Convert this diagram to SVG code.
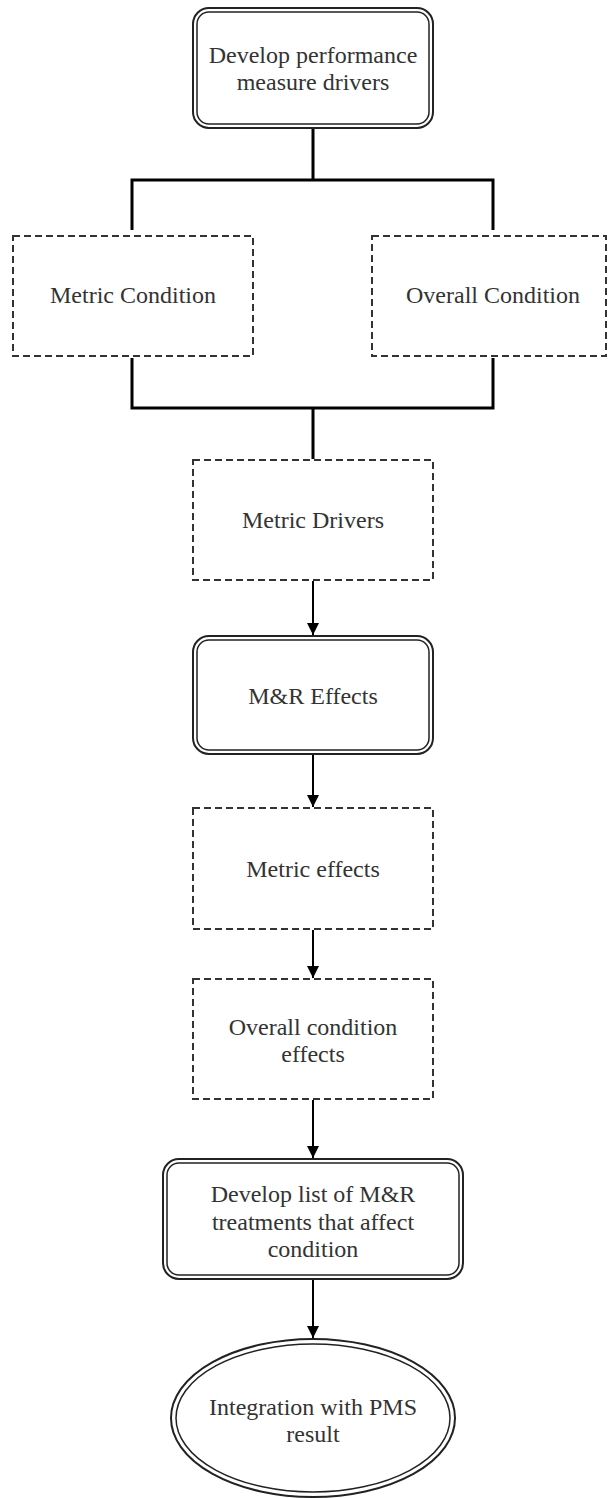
<svg xmlns="http://www.w3.org/2000/svg" width="608" height="1498" viewBox="0 0 608 1498">
<style>
text{font-family:'Liberation Serif','Times New Roman',serif;font-size:24px;fill:#333;text-anchor:middle}
.outer{fill:#fff;stroke:#222;stroke-width:2}
.inner{fill:none;stroke:#222;stroke-width:1.5}
.dash{fill:#fff;stroke:#333;stroke-width:2;stroke-dasharray:7 4}
.bus{fill:none;stroke:#000;stroke-width:3}
.arr{fill:none;stroke:#000;stroke-width:2;marker-end:url(#ah)}
</style>
<defs>
<marker id="ah" viewBox="0 0 12 12" refX="12" refY="6" markerWidth="12" markerHeight="12" markerUnits="userSpaceOnUse" orient="auto">
<path d="M0,0 L12,6 L0,12 z" fill="#000"/>
</marker>
</defs>
<g id="connectors">
<path class="bus" d="M313,128 V180 M132,230 V180 H493 V230"/>
<path class="bus" d="M132,358 V408 H493 V358 M313,408 V459"/>
<path class="arr" d="M313,581 V635"/>
<path class="arr" d="M313,754 V807"/>
<path class="arr" d="M313,930 V978"/>
<path class="arr" d="M313,1100 V1158"/>
<path class="arr" d="M313,1280 V1338"/>
</g>
<g id="n1">
<rect class="outer" x="193" y="8" width="240" height="120" rx="16"/>
<rect class="inner" x="197" y="12" width="232" height="112" rx="12"/>
<text x="313" y="63">Develop performance</text>
<text x="313" y="90">measure drivers</text>
</g>
<g id="n2">
<rect class="dash" x="13" y="236" width="240" height="120"/>
<text x="133" y="303">Metric Condition</text>
</g>
<g id="n3">
<rect class="dash" x="372" y="236" width="234" height="120"/>
<text x="493" y="303">Overall Condition</text>
</g>
<g id="n4">
<rect class="dash" x="193" y="460" width="240" height="120"/>
<text x="313" y="528">Metric Drivers</text>
</g>
<g id="n5">
<rect class="outer" x="193" y="636" width="240" height="118" rx="16"/>
<rect class="inner" x="197" y="640" width="232" height="110" rx="12"/>
<text x="313" y="704">M&amp;R Effects</text>
</g>
<g id="n6">
<rect class="dash" x="193" y="808" width="240" height="121"/>
<text x="313" y="877">Metric effects</text>
</g>
<g id="n7">
<rect class="dash" x="193" y="979" width="240" height="120"/>
<text x="313" y="1035">Overall condition</text>
<text x="313" y="1062">effects</text>
</g>
<g id="n8">
<rect class="outer" x="163" y="1159" width="300" height="120" rx="16"/>
<rect class="inner" x="167" y="1163" width="292" height="112" rx="12"/>
<text x="313" y="1202">Develop list of M&amp;R</text>
<text x="313" y="1230">treatments that affect</text>
<text x="313" y="1257">condition</text>
</g>
<g id="n9">
<ellipse class="outer" cx="313" cy="1418" rx="142" ry="79"/>
<ellipse class="inner" cx="313" cy="1418" rx="137" ry="74"/>
<text x="313" y="1415">Integration with PMS</text>
<text x="313" y="1442">result</text>
</g>
</svg>
